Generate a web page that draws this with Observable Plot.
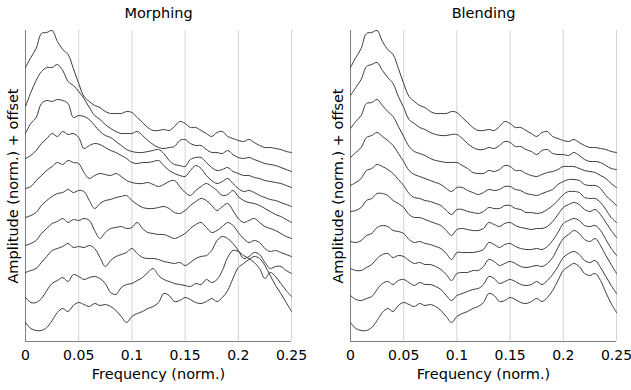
<!DOCTYPE html>
<html><head><meta charset="utf-8">
<script src="https://cdn.jsdelivr.net/npm/d3@7"></script>
<script src="https://cdn.jsdelivr.net/npm/@observablehq/plot@0.6"></script>
<style>
html,body{margin:0;padding:0;background:#fff;}
#wrap{display:flex;width:631px;height:390px;}
</style></head>
<body><div id="wrap"></div>
<script>
const freq = [0,0.005,0.01,0.015,0.02,0.025,0.03,0.035,0.04,0.045,0.05,0.055,0.06,0.065,0.07,0.075,0.08,0.085,0.09,0.095,0.1,0.105,0.11,0.115,0.12,0.125,0.13,0.135,0.14,0.145,0.15,0.155,0.16,0.165,0.17,0.175,0.18,0.185,0.19,0.195,0.2,0.205,0.21,0.215,0.22,0.225,0.23,0.235,0.24,0.245,0.25];
const xTicks = [0,0.05,0.1,0.15,0.2,0.25];
const gridTicks = [0.05,0.1,0.15,0.2,0.25];
const titles = ["Morphing","Blending"];
const xLabel = "Frequency (norm.)";
const yLabel = "Amplitude (norm.) + offset";

// Morphing (amplitude + offset)
const m1 = [2.74,2.84,2.93,3.08,3.09,3.11,3.00,2.92,2.87,2.73,2.58,2.45,2.40,2.36,2.34,2.30,2.28,2.28,2.28,2.30,2.29,2.24,2.19,2.14,2.11,2.11,2.12,2.11,2.15,2.20,2.18,2.14,2.14,2.11,2.08,2.05,2.09,2.10,2.05,2.03,2.01,2.00,2.02,1.99,1.96,1.94,1.94,1.93,1.92,1.90,1.89];
const m2 = [2.35,2.49,2.61,2.70,2.74,2.74,2.77,2.71,2.60,2.56,2.50,2.43,2.34,2.26,2.22,2.17,2.13,2.10,2.08,2.08,2.08,2.10,2.06,2.01,1.97,1.94,1.93,1.94,1.95,2.01,2.02,1.98,1.96,1.96,1.92,1.89,1.89,1.88,1.91,1.87,1.84,1.83,1.84,1.82,1.80,1.78,1.77,1.76,1.74,1.72,1.70];
const m3 = [2.08,2.18,2.24,2.38,2.41,2.40,2.42,2.41,2.38,2.24,2.26,2.25,2.22,2.16,2.10,2.06,2.04,2.00,1.96,1.92,1.90,1.89,1.89,1.90,1.91,1.92,1.88,1.81,1.77,1.76,1.75,1.82,1.84,1.84,1.79,1.74,1.71,1.72,1.74,1.70,1.68,1.66,1.66,1.64,1.63,1.61,1.60,1.59,1.58,1.56,1.54];
const m4 = [1.83,1.86,1.91,1.98,2.03,2.08,2.05,2.10,2.07,2.08,2.04,1.93,1.96,1.98,1.97,1.94,1.91,1.89,1.86,1.83,1.79,1.78,1.79,1.79,1.80,1.81,1.76,1.71,1.68,1.66,1.65,1.71,1.76,1.73,1.66,1.61,1.58,1.60,1.63,1.58,1.53,1.50,1.51,1.49,1.46,1.44,1.42,1.41,1.39,1.37,1.35];
const m5 = [1.53,1.55,1.61,1.66,1.71,1.75,1.79,1.77,1.81,1.79,1.78,1.69,1.63,1.66,1.68,1.67,1.66,1.68,1.65,1.61,1.59,1.58,1.58,1.59,1.57,1.55,1.57,1.60,1.61,1.55,1.49,1.46,1.51,1.55,1.58,1.55,1.51,1.46,1.47,1.51,1.45,1.41,1.39,1.38,1.36,1.33,1.30,1.27,1.25,1.22,1.19];
const m6 = [1.24,1.26,1.29,1.36,1.41,1.45,1.48,1.49,1.52,1.49,1.51,1.50,1.41,1.33,1.38,1.41,1.42,1.44,1.45,1.46,1.41,1.37,1.34,1.33,1.33,1.34,1.35,1.33,1.29,1.28,1.31,1.36,1.40,1.43,1.41,1.36,1.31,1.35,1.38,1.31,1.23,1.19,1.21,1.23,1.19,1.15,1.13,1.11,1.08,1.05,1.03];
const m7 = [0.96,0.98,1.01,1.08,1.13,1.18,1.20,1.23,1.19,1.22,1.21,1.23,1.21,1.11,1.03,1.09,1.13,1.14,1.15,1.13,1.14,1.19,1.13,1.09,1.08,1.07,1.07,1.05,1.03,1.05,1.08,1.13,1.17,1.19,1.14,1.09,1.11,1.15,1.19,1.16,1.09,1.03,0.99,1.01,0.99,0.93,0.90,0.91,0.89,0.87,0.85];
const m8 = [0.69,0.71,0.73,0.79,0.85,0.91,0.93,0.95,0.98,0.94,0.95,0.94,0.96,0.93,0.84,0.75,0.81,0.85,0.87,0.89,0.93,0.88,0.84,0.83,0.83,0.82,0.80,0.79,0.78,0.79,0.76,0.79,0.83,0.85,0.86,0.91,1.01,1.05,1.03,0.98,0.91,0.83,0.85,0.89,0.87,0.79,0.73,0.75,0.75,0.71,0.68];
const m9 = [0.44,0.39,0.39,0.43,0.51,0.58,0.61,0.64,0.60,0.67,0.65,0.62,0.64,0.65,0.63,0.58,0.49,0.47,0.54,0.57,0.58,0.61,0.64,0.69,0.73,0.66,0.62,0.60,0.58,0.57,0.56,0.55,0.58,0.57,0.62,0.59,0.62,0.71,0.84,0.91,0.90,0.86,0.83,0.79,0.73,0.63,0.69,0.65,0.58,0.51,0.45];
const m10 = [0.19,0.13,0.11,0.11,0.14,0.21,0.29,0.33,0.30,0.36,0.39,0.37,0.35,0.38,0.36,0.37,0.35,0.31,0.25,0.19,0.25,0.28,0.30,0.33,0.35,0.39,0.48,0.46,0.40,0.41,0.44,0.42,0.39,0.38,0.40,0.43,0.40,0.44,0.51,0.63,0.74,0.78,0.82,0.85,0.83,0.76,0.66,0.56,0.48,0.39,0.30];

// Blending (amplitude + offset)
const b1 = [2.74,2.84,2.93,3.08,3.09,3.11,3.00,2.92,2.87,2.73,2.58,2.45,2.40,2.36,2.34,2.30,2.28,2.28,2.28,2.30,2.29,2.24,2.19,2.14,2.11,2.11,2.12,2.11,2.15,2.20,2.18,2.14,2.14,2.11,2.08,2.05,2.09,2.10,2.05,2.03,2.01,2.00,2.02,1.99,1.96,1.94,1.94,1.93,1.92,1.90,1.89];
const b2 = [2.46,2.54,2.62,2.75,2.77,2.79,2.71,2.64,2.58,2.45,2.34,2.22,2.18,2.14,2.12,2.09,2.07,2.06,2.06,2.07,2.07,2.03,1.98,1.94,1.92,1.92,1.94,1.93,1.96,2.00,1.99,1.95,1.95,1.92,1.90,1.87,1.91,1.92,1.88,1.87,1.87,1.86,1.89,1.86,1.82,1.80,1.80,1.79,1.76,1.73,1.72];
const b3 = [2.13,2.20,2.26,2.38,2.39,2.42,2.36,2.30,2.25,2.15,2.05,1.95,1.90,1.88,1.86,1.83,1.81,1.80,1.79,1.79,1.79,1.76,1.73,1.69,1.68,1.68,1.71,1.70,1.72,1.76,1.75,1.71,1.71,1.68,1.66,1.65,1.67,1.69,1.70,1.72,1.75,1.75,1.75,1.73,1.71,1.70,1.69,1.66,1.63,1.58,1.54];
const b4 = [1.84,1.89,1.94,2.04,2.06,2.09,2.05,2.01,1.96,1.88,1.80,1.71,1.67,1.65,1.63,1.61,1.59,1.57,1.53,1.50,1.54,1.54,1.51,1.49,1.47,1.49,1.52,1.51,1.52,1.55,1.55,1.52,1.51,1.48,1.47,1.46,1.48,1.50,1.52,1.57,1.60,1.62,1.62,1.61,1.57,1.56,1.56,1.53,1.46,1.41,1.36];
const b5 = [1.56,1.59,1.63,1.71,1.73,1.77,1.75,1.72,1.68,1.62,1.56,1.48,1.44,1.43,1.41,1.40,1.38,1.36,1.31,1.27,1.32,1.32,1.30,1.29,1.28,1.30,1.34,1.33,1.33,1.36,1.36,1.33,1.32,1.29,1.29,1.28,1.29,1.32,1.36,1.41,1.47,1.50,1.50,1.49,1.44,1.43,1.43,1.39,1.32,1.24,1.19];
const b6 = [1.30,1.31,1.34,1.41,1.43,1.48,1.48,1.46,1.41,1.38,1.34,1.27,1.24,1.24,1.22,1.20,1.18,1.16,1.11,1.06,1.12,1.13,1.12,1.11,1.11,1.13,1.19,1.17,1.15,1.18,1.19,1.16,1.14,1.13,1.12,1.13,1.13,1.15,1.20,1.27,1.34,1.37,1.39,1.37,1.32,1.30,1.32,1.27,1.19,1.11,1.04];
const b7 = [1.00,0.99,1.01,1.06,1.08,1.14,1.16,1.15,1.11,1.10,1.08,1.02,0.99,1.00,0.98,0.97,0.95,0.93,0.88,0.82,0.89,0.89,0.89,0.89,0.90,0.92,0.99,0.97,0.94,0.97,0.98,0.95,0.93,0.92,0.92,0.93,0.92,0.95,1.01,1.09,1.18,1.21,1.23,1.21,1.16,1.15,1.16,1.11,1.02,0.93,0.86];
const b8 = [0.73,0.71,0.71,0.74,0.77,0.83,0.87,0.88,0.84,0.86,0.85,0.81,0.78,0.79,0.77,0.77,0.75,0.72,0.67,0.61,0.68,0.69,0.69,0.71,0.71,0.75,0.82,0.80,0.76,0.78,0.80,0.78,0.75,0.74,0.75,0.76,0.75,0.78,0.84,0.94,1.03,1.07,1.11,1.08,1.02,1.00,1.03,0.96,0.86,0.77,0.68];
const b9 = [0.46,0.42,0.41,0.43,0.45,0.52,0.58,0.60,0.57,0.61,0.62,0.59,0.56,0.59,0.57,0.57,0.55,0.52,0.46,0.41,0.46,0.48,0.50,0.52,0.53,0.57,0.65,0.63,0.58,0.60,0.62,0.60,0.57,0.56,0.57,0.60,0.57,0.61,0.67,0.75,0.84,0.88,0.90,0.87,0.81,0.79,0.81,0.74,0.65,0.56,0.48];
const b10 = [0.19,0.13,0.11,0.11,0.14,0.21,0.29,0.33,0.30,0.36,0.39,0.37,0.35,0.38,0.36,0.37,0.35,0.31,0.25,0.19,0.25,0.28,0.30,0.33,0.35,0.39,0.48,0.46,0.40,0.41,0.44,0.42,0.39,0.38,0.40,0.43,0.40,0.44,0.51,0.61,0.71,0.75,0.78,0.75,0.68,0.66,0.68,0.61,0.49,0.38,0.29];

const morphing = [m1,m2,m3,m4,m5,m6,m7,m8,m9,m10];
const blending = [b1,b2,b3,b4,b5,b6,b7,b8,b9,b10];

const FONT = "'DejaVu Sans', Verdana, sans-serif";

function panel(title, series, width, ml, mr) {
  const rows = series.flatMap((s, k) => s.map((v, i) => ({f: freq[i], v, k})));
  return Plot.plot({
    width, height: 390,
    marginTop: 30, marginBottom: 49, marginLeft: ml, marginRight: mr,
    style: {fontFamily: FONT, fontSize: "14px", background: "#fff", color: "#000"},
    x: {domain: [0, 0.25], ticks: xTicks, tickFormat: d => String(d), tickSize: 0, tickPadding: 9, label: null},
    y: {domain: [0, 3.11], axis: null},
    marks: [
      Plot.ruleX(gridTicks, {stroke: "#d4d4d4", strokeWidth: 1}),
      Plot.ruleX([0], {stroke: "#808080", strokeWidth: 1}),
      Plot.ruleY([0], {stroke: "#808080", strokeWidth: 1}),
      Plot.line(rows, {x: "f", y: "v", z: "k", stroke: "#3a3a3a", strokeWidth: 1, curve: "catmull-rom"}),
      Plot.text([title], {frameAnchor: "top", dy: -17, fontSize: 14.5, fill: "#000", textAnchor: "middle", lineAnchor: "middle"}),
      Plot.text([yLabel], {frameAnchor: "left", dx: -12, rotate: -90, fontSize: 14.5, fill: "#000", textAnchor: "middle", lineAnchor: "middle"}),
      Plot.text([xLabel], {frameAnchor: "bottom", dy: 33, fontSize: 14.5, fill: "#000", textAnchor: "middle", lineAnchor: "middle"})
    ]
  });
}

const wrap = document.getElementById("wrap");
wrap.appendChild(panel(titles[0], morphing, 315, 25, 24));
wrap.appendChild(panel(titles[1], blending, 316, 35, 15));
</script>
</body></html>
